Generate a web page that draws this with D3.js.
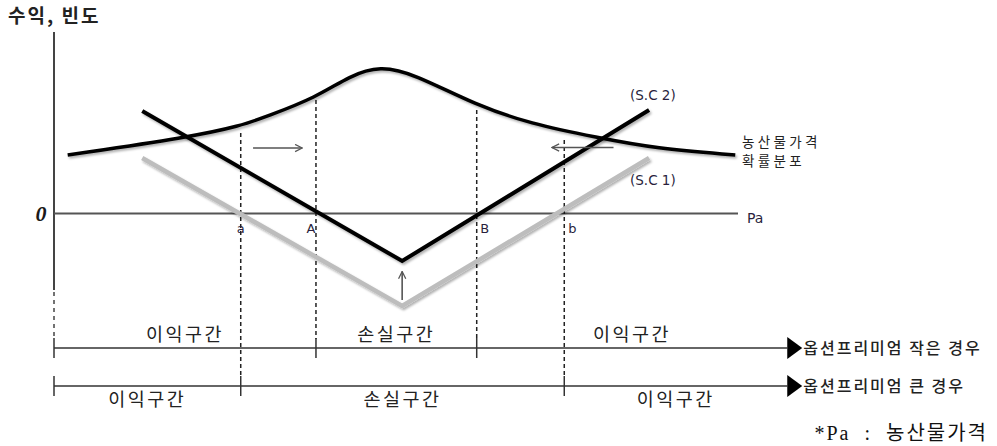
<!DOCTYPE html>
<html>
<head>
<meta charset="utf-8">
<script src="https://cdn.jsdelivr.net/npm/d3@7"></script>
<style>
  html, body { margin: 0; padding: 0; background: #fff; }
  svg { display: block; }
  .kr { font-family: "Noto Sans CJK KR", "Noto Sans", sans-serif; fill: #222; }
  .lat { font-family: "DejaVu Sans", "Noto Sans", sans-serif; fill: #2a1f3d; }
</style>
</head>
<body>
<svg id="chart" width="997" height="446"></svg>
<script>
// Price axis (Pa) runs 0..100, payoff / frequency axis in arbitrary units.
const bellPrice = [2.0, 19.9, 27.2, 31.1, 38.3, 43.3, 47.7, 52.5, 61.8, 69.6, 79.4, 88.0, 99.6];
const bellFreq  = [5.85, 7.65, 8.75, 9.7, 11.6, 13.8, 14.75, 14.0, 10.8, 9.0, 7.6, 6.5, 5.85];

// Straddle payoff lines: S.C 2 (small premium) and S.C 1 (large premium)
const payoffPrice = [12.9, 50.9, 87.0];
const payoffSC2   = [10.25, -4.75, 10.35];
const payoffSC1   = [5.55, -9.25, 5.55];

// Break-even prices
const breakLabels = ["a", "A", "B", "b"];
const breakPrices = [27.3, 38.3, 61.8, 74.6];
const guideTops   = [8.05, 11.35, 10.35, 7.35];
const guideToBar  = [1, 0, 0, 1];      // 0 = small-premium bar, 1 = large-premium bar

// Profit / loss zones on each bar
const barEnd = 107.2;
const zonesSmall = [[0, 38.3, "이익구간"], [38.3, 61.8, "손실구간"], [61.8, barEnd, "이익구간"]];
const zonesLarge = [[0, 27.3, "이익구간"], [27.3, 74.6, "손실구간"], [74.6, barEnd, "이익구간"]];
const barTitles = ["옵션프리미엄 작은 경우", "옵션프리미엄 큰 경우"];

const svg = d3.select("#chart");
const x = d3.scaleLinear().domain([0, 100]).range([54, 738]);
const y = d3.scaleLinear().domain([-10, 15]).range([313.5, 63.5]);

const defs = svg.append("defs");
const sh = defs.append("filter").attr("id", "shadow").attr("x", "-10%").attr("y", "-10%").attr("width", "130%").attr("height", "140%");
sh.append("feDropShadow").attr("dx", 1.5).attr("dy", 2).attr("stdDeviation", 1.3).attr("flood-color", "#000").attr("flood-opacity", 0.3);

function arrowMarker(id, color) {
  defs.append("marker").attr("id", id).attr("viewBox", "0 0 10 10").attr("refX", 9).attr("refY", 5)
    .attr("markerWidth", 9).attr("markerHeight", 9).attr("markerUnits", "userSpaceOnUse").attr("orient", "auto")
    .append("path").attr("d", "M1,1 L9,5 L1,9").attr("fill", "none").attr("stroke", color).attr("stroke-width", 1.4);
}
arrowMarker("openArrow", "#555");

// Axis title
svg.append("text").attr("class", "kr").attr("x", 8).attr("y", 23)
  .attr("font-size", 19).attr("font-weight", 700).attr("letter-spacing", 2).attr("fill", "#1a1a1a").text("수익, 빈도");

// Vertical axis (solid part then dashed down to the first bar)
const barY = [348, 386];
svg.append("line").attr("x1", x(0)).attr("x2", x(0)).attr("y1", 32).attr("y2", 290)
  .attr("stroke", "#444").attr("stroke-width", 2);
svg.append("line").attr("x1", x(0)).attr("x2", x(0)).attr("y1", 292).attr("y2", barY[0] - 9)
  .attr("stroke", "#444").attr("stroke-width", 1.5).attr("stroke-dasharray", "4,4");

// Horizontal zero line
svg.append("line").attr("x1", x(0)).attr("x2", x(100)).attr("y1", y(0)).attr("y2", y(0))
  .attr("stroke", "#555").attr("stroke-width", 2);
svg.append("text").attr("x", 41).attr("y", y(0) + 7).attr("font-family", "Liberation Serif, serif")
  .attr("font-style", "italic").attr("font-weight", 700).attr("font-size", 22).attr("text-anchor", "middle")
  .attr("fill", "#1a1a1a").text("0");
svg.append("text").attr("class", "lat").attr("x", x(100) + 9).attr("y", y(0) + 9)
  .attr("font-size", 14).text("Pa");

// Guide lines at break-even prices
breakPrices.forEach((p, i) => {
  const bottom = guideToBar[i] === 0 ? barY[0] - 9 : barY[1] - 10;
  svg.append("line").attr("x1", x(p)).attr("x2", x(p)).attr("y1", y(guideTops[i])).attr("y2", bottom)
    .attr("stroke", "#222").attr("stroke-width", 1.5).attr("stroke-dasharray", "4,3");
  const dx = (breakLabels[i] === "A") ? -5 : (breakLabels[i] === "a" ? 0 : 8);
  svg.append("text").attr("class", "lat").attr("x", x(p) + dx).attr("y", y(0) + 19)
    .attr("font-size", 13).attr("text-anchor", "middle").text(breakLabels[i]);
});

// Price probability distribution
const smooth = d3.line().x(d => x(d[0])).y(d => y(d[1])).curve(d3.curveBasis);
svg.append("path").datum(d3.zip(bellPrice, bellFreq)).attr("d", smooth)
  .attr("fill", "none").attr("stroke", "#000").attr("stroke-width", 3.5).attr("filter", "url(#shadow)");

// Payoff lines
const straight = d3.line().x(d => x(d[0])).y(d => y(d[1]));
svg.append("path").datum(d3.zip(payoffPrice, payoffSC1)).attr("d", straight)
  .attr("fill", "none").attr("stroke", "#bdbdbd").attr("stroke-width", 4.5).attr("filter", "url(#shadow)");
svg.append("path").datum(d3.zip(payoffPrice, payoffSC2)).attr("d", straight)
  .attr("fill", "none").attr("stroke", "#000").attr("stroke-width", 4).attr("filter", "url(#shadow)");

// Shift arrows
const arrows = [[[29.1, 6.55], [36.3, 6.55]], [[81.8, 6.6], [72.8, 6.6]], [[50.9, -8.65], [50.9, -5.8]]];
arrows.forEach(a => {
  svg.append("line").attr("x1", x(a[0][0])).attr("y1", y(a[0][1])).attr("x2", x(a[1][0])).attr("y2", y(a[1][1]))
    .attr("stroke", "#555").attr("stroke-width", 1.6).attr("marker-end", "url(#openArrow)");
});

// Line labels
svg.append("text").attr("class", "lat").attr("x", 630).attr("y", 100).attr("font-size", 13.5).text("(S.C 2)");
svg.append("text").attr("class", "lat").attr("x", 630).attr("y", 185).attr("font-size", 13.5).text("(S.C 1)");
svg.append("text").attr("class", "kr").attr("x", 742).attr("y", 147).attr("font-size", 13.5).attr("letter-spacing", 3.3).text("농산물가격");
svg.append("text").attr("class", "kr").attr("x", 742).attr("y", 166).attr("font-size", 13.5).attr("letter-spacing", 3.3).text("확률분포");

// Profit / loss bars
[zonesSmall, zonesLarge].forEach((zones, bi) => {
  const by = barY[bi];
  svg.append("line").attr("x1", x(0)).attr("x2", x(barEnd)).attr("y1", by).attr("y2", by)
    .attr("stroke", "#333").attr("stroke-width", 1.5);
  svg.append("path")
    .attr("d", `M${x(barEnd)},${by - 11} L${x(barEnd) + 15},${by} L${x(barEnd)},${by + 11} Z`)
    .attr("fill", "#000");
  svg.append("text").attr("class", "kr").attr("x", x(barEnd) + 16).attr("y", by + 6)
    .attr("font-size", 16).attr("font-weight", 500).attr("letter-spacing", 2).attr("fill", "#111").text(barTitles[bi]);
  zones.forEach(z => {
    // the large-premium break-even b runs through the small-premium bar as a dashed guide
    const isDashedCross = (bi === 0 && z[0] === 74.6);
    if (!isDashedCross) {
      svg.append("line").attr("x1", x(z[0])).attr("x2", x(z[0])).attr("y1", by - 10).attr("y2", by + 10)
        .attr("stroke", "#333").attr("stroke-width", 1.5);
    }
    const cx = (x(z[0]) + x(Math.min(z[1], barEnd))) / 2;
    svg.append("text").attr("class", "kr").attr("x", cx).attr("y", bi === 0 ? by - 7 : by + 20)
      .attr("text-anchor", "middle").attr("font-size", 18.5).attr("letter-spacing", 2.5).text(z[2]);
  });
});

// Footnote
svg.append("text").attr("x", 988).attr("y", 440).attr("text-anchor", "end")
  .attr("font-family", "Liberation Serif, 'Noto Sans CJK KR', serif").attr("font-size", 20)
  .attr("letter-spacing", 2).attr("fill", "#111").attr("xml:space", "preserve")
  .text("*Pa  :  농산물가격");
</script>
</body>
</html>
